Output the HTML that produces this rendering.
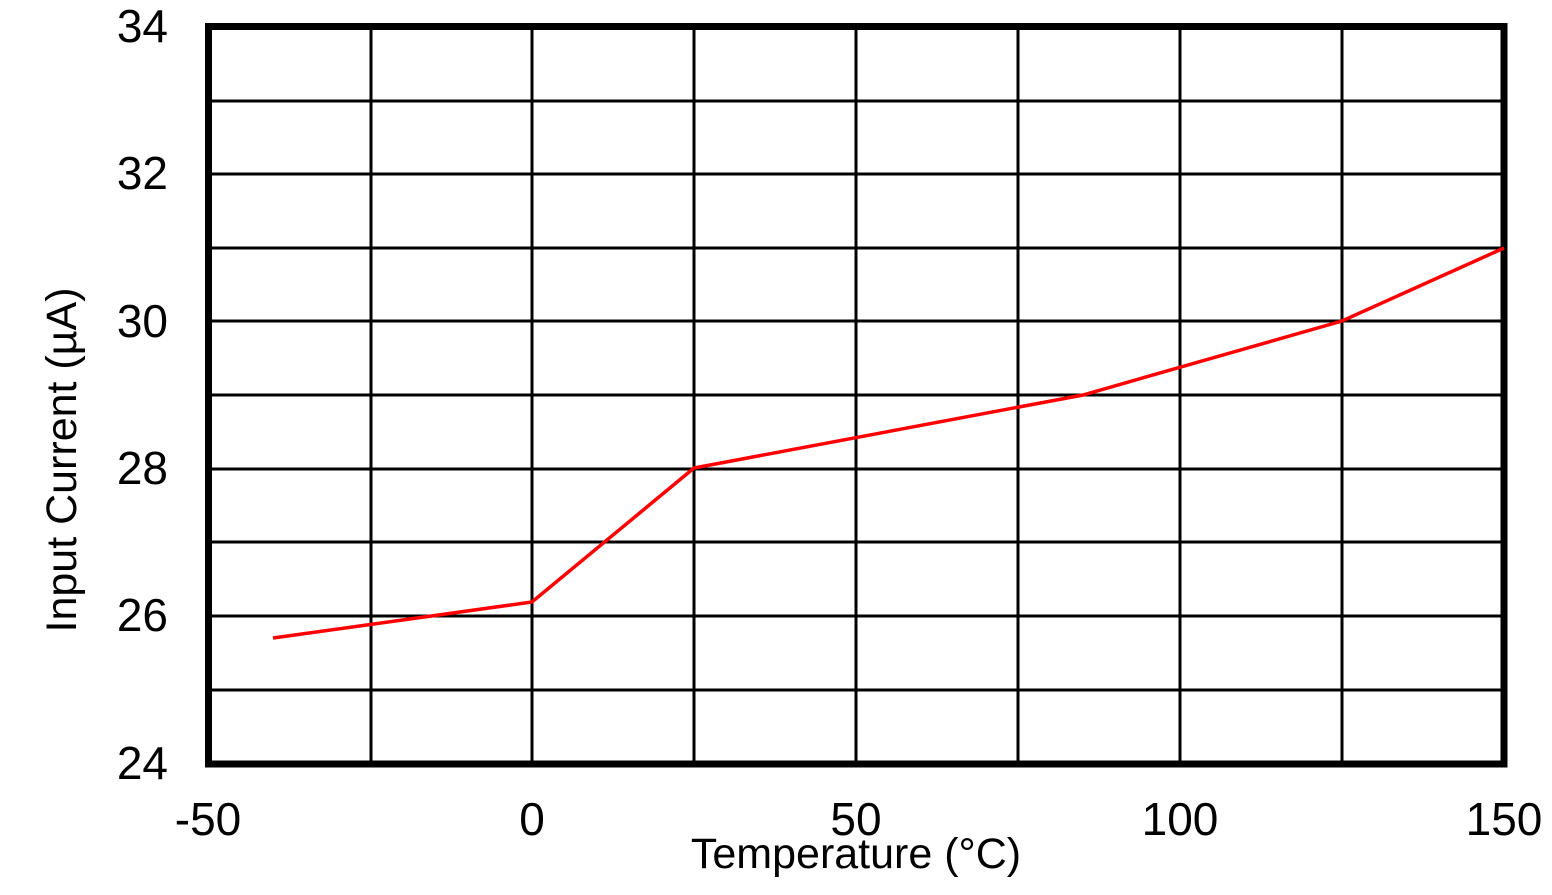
<!DOCTYPE html><html><head><style>body{margin:0;background:#fff}</style></head><body>
<svg width="1552" height="890" xmlns="http://www.w3.org/2000/svg" font-family="Liberation Sans, sans-serif">
<g stroke="#000" stroke-width="3">
<line x1="371" y1="27" x2="371" y2="764"/><line x1="532" y1="27" x2="532" y2="764"/><line x1="694" y1="27" x2="694" y2="764"/><line x1="856" y1="27" x2="856" y2="764"/><line x1="1018" y1="27" x2="1018" y2="764"/><line x1="1180" y1="27" x2="1180" y2="764"/><line x1="1342" y1="27" x2="1342" y2="764"/>
<line x1="208" y1="101" x2="1504" y2="101"/><line x1="208" y1="174" x2="1504" y2="174"/><line x1="208" y1="248" x2="1504" y2="248"/><line x1="208" y1="321" x2="1504" y2="321"/><line x1="208" y1="395" x2="1504" y2="395"/><line x1="208" y1="469" x2="1504" y2="469"/><line x1="208" y1="542" x2="1504" y2="542"/><line x1="208" y1="616" x2="1504" y2="616"/><line x1="208" y1="690" x2="1504" y2="690"/>
</g>
<rect x="208.5" y="26.5" width="1295.5" height="737.5" fill="none" stroke="#000" stroke-width="7"/>
<polyline points="273,638 532,602 694,468 1083,395 1342,321 1504,248" fill="none" stroke="#f00" stroke-width="3.5"/>
<g font-size="46" text-anchor="end" fill="#000">
<text x="168" y="42">34</text><text x="168" y="189">32</text><text x="168" y="337">30</text><text x="168" y="484">28</text><text x="168" y="631">26</text><text x="168" y="779">24</text>
</g>
<g font-size="46" text-anchor="middle" fill="#000">
<text x="208" y="835">-50</text><text x="532" y="835">0</text><text x="856" y="835">50</text><text x="1180" y="835">100</text><text x="1504" y="835">150</text>
<text x="856" y="868" font-size="43">Temperature (°C)</text>
<text transform="translate(76,460) rotate(-90)" font-size="43">Input Current (µA)</text>
</g>
</svg>
</body></html>
